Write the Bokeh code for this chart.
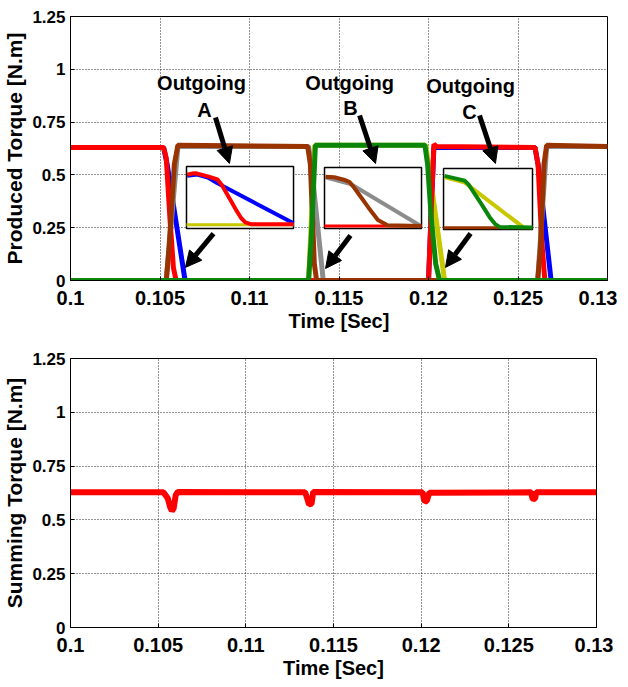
from bokeh.plotting import figure
from bokeh.layouts import column
from bokeh.models import Range1d, FixedTicker, Label, Arrow, NormalHead
from bokeh.embed import file_html
from bokeh.resources import INLINE

# ---------------- data ----------------
x_ticks = [0.1, 0.105, 0.11, 0.115, 0.12, 0.125, 0.13]
x_tick_labels = ["0.1", "0.105", "0.11", "0.115", "0.12", "0.125", "0.13"]
y_ticks = [0, 0.25, 0.5, 0.75, 1.0, 1.25]
y_tick_labels = ["0", "0.25", "0.5", "0.75", "1", "1.25"]

# Phase A (measured = red, reference = blue)
red_t = [0.1, 0.10520, 0.10535, 0.10555, 0.10575, 0.10590, 0.12000, 0.12030, 0.12045, 0.12595, 0.12612, 0.12632, 0.12650, 0.13]
red_v = [0.63, 0.63, 0.58, 0.30, 0.06, 0.0, 0.0, 0.645, 0.635, 0.63, 0.55, 0.20, 0.0, 0.0]
blue_t = [0.1, 0.10520, 0.10540, 0.10640, 0.12000, 0.12030, 0.12595, 0.12612, 0.12685, 0.13]
blue_v = [0.63, 0.63, 0.55, 0.0, 0.0, 0.63, 0.63, 0.55, 0.0, 0.0]
# Phase B (measured = brown, reference = gray)
brown_t = [0.1, 0.10535, 0.10550, 0.10580, 0.10600, 0.11325, 0.11340, 0.11352, 0.11362, 0.11375,
           0.12610, 0.12625, 0.12645, 0.12660, 0.13]
brown_v = [0.0, 0.0, 0.15, 0.55, 0.64, 0.635, 0.55, 0.30, 0.08, 0.0,
           0.0, 0.15, 0.55, 0.64, 0.635]
gray_t = [0.1, 0.10535, 0.10600, 0.11330, 0.11345, 0.11412, 0.12610, 0.12660, 0.13]
gray_v = [0.0, 0.0, 0.635, 0.635, 0.55, 0.0, 0.0, 0.635, 0.635]
# Phase C (measured = green, reference = yellow)
green_t = [0.1, 0.11330, 0.11345, 0.11368, 0.11380, 0.11980, 0.11995, 0.12015, 0.12040, 0.12062, 0.13]
green_v = [0.0, 0.0, 0.20, 0.64, 0.64, 0.64, 0.55, 0.30, 0.08, 0.0, 0.0]
yellow_t = [0.1, 0.11330, 0.11365, 0.11985, 0.12000, 0.12090, 0.13]
yellow_v = [0.0, 0.0, 0.64, 0.64, 0.55, 0.0, 0.0]

# Summing torque
sum_t = [0.1, 0.10530, 0.10555, 0.10568, 0.10578, 0.10588, 0.10600, 0.10612,
         0.11338, 0.11350, 0.11360, 0.11375, 0.11384,
         0.12008, 0.12015, 0.12022, 0.12032, 0.12046,
         0.12628, 0.12634, 0.12640, 0.12650, 0.12656, 0.13]
sum_v = [0.628, 0.628, 0.600, 0.560, 0.542, 0.552, 0.615, 0.630,
         0.628, 0.600, 0.572, 0.575, 0.630,
         0.628, 0.600, 0.585, 0.588, 0.626,
         0.628, 0.602, 0.596, 0.600, 0.628, 0.628]

# Inset zooms (normalised inset units: 0..1 across each inset box)
insA_red_x = [0.006, 0.05, 0.085, 0.20, 0.29, 0.33, 0.37, 0.42, 0.47, 0.51, 0.55, 0.60, 1.0]
insA_red_y = [0.866, 0.885, 0.89, 0.84, 0.79, 0.70, 0.58, 0.43, 0.28, 0.17, 0.10, 0.07, 0.07]
insA_blue_x = [0.006, 0.10, 0.20, 0.29, 1.0]
insA_blue_y = [0.85, 0.87, 0.82, 0.73, 0.086]
insA_base_x = [0.0, 1.0]
insA_base_y = [0.06, 0.06]

insB_brown_x = [0.01, 0.10, 0.20, 0.26, 0.31, 0.36, 0.45, 0.55, 0.65, 1.0]
insB_brown_y = [0.85, 0.84, 0.80, 0.76, 0.66, 0.55, 0.35, 0.14, 0.054, 0.043]
insB_gray_x = [0.01, 0.27, 0.98]
insB_gray_y = [0.84, 0.73, 0.054]
insB_base_x = [0.0, 1.0]
insB_base_y = [0.04, 0.04]

insC_green_x = [0.01, 0.13, 0.24, 0.28, 0.33, 0.43, 0.52, 0.58, 0.63, 1.0]
insC_green_y = [0.88, 0.84, 0.80, 0.74, 0.63, 0.41, 0.20, 0.09, 0.044, 0.033]
insC_yellow_x = [0.01, 0.24, 0.89]
insC_yellow_y = [0.86, 0.77, 0.044]
insC_base_x = [0.0, 1.0]
insC_base_y = [0.03, 0.03]

# ---------------- styles / layout ----------------
RED, BLUE, BROWN, GRAY, GREEN, YELLOW = "#ff0000", "#0000ff", "#993300", "#8c8c8c", "#0a870a", "#c8c800"
FONT = "Liberation Sans"

XR = (0.1, 0.13)
YR = (0.0, 1.25)

# inset boxes in main-axis data coordinates (x0, x1, y0, y1)
inset_boxes = {
    "A": (0.10648, 0.11246, 0.246, 0.540),
    "B": (0.11419, 0.11961, 0.246, 0.535),
    "C": (0.12084, 0.12581, 0.241, 0.530),
}
outgoing_pos = {"A": (0.10732, 0.933, 0.10749, 0.805),
                "B": (0.11559, 0.933, 0.11564, 0.819),
                "C": (0.12235, 0.919, 0.12229, 0.800)}
arrow_pos = [
    (0.10810, 0.772, 0.10888, 0.554), (0.10799, 0.222, 0.10642, 0.062),
    (0.11615, 0.781, 0.11704, 0.554), (0.11564, 0.213, 0.11425, 0.057),
    (0.12285, 0.781, 0.12374, 0.554), (0.12235, 0.222, 0.12095, 0.062),
]


def make_fig(fw, fh, left, right, top, bottom, ylabel):
    p = figure(frame_width=fw, frame_height=fh,
               x_range=Range1d(*XR), y_range=Range1d(*YR),
               output_backend="svg", toolbar_location=None,
               min_border_left=left, min_border_right=right,
               min_border_top=top, min_border_bottom=bottom,
               background_fill_color="white", border_fill_color="white")
    p.outline_line_color = "black"
    p.outline_line_width = 1
    p.xaxis.ticker = FixedTicker(ticks=x_ticks)
    p.yaxis.ticker = FixedTicker(ticks=y_ticks)
    p.xaxis.major_label_overrides = dict(zip(x_ticks, x_tick_labels))
    p.yaxis.major_label_overrides = dict(zip(y_ticks, y_tick_labels))
    p.xaxis.axis_label = "Time [Sec]"
    p.yaxis.axis_label = ylabel
    for ax in (p.xaxis[0], p.yaxis[0]):
        ax.axis_line_color = "black"
        ax.major_tick_in = 4
        ax.major_tick_out = 0
        ax.minor_tick_line_color = None
        ax.major_label_text_font = FONT
        ax.major_label_text_font_style = "bold"
        ax.major_label_text_color = "black"
        ax.axis_label_text_font = FONT
        ax.axis_label_text_font_style = "bold"
        ax.axis_label_text_color = "black"
    p.xaxis.major_label_text_font_size = "20px"
    p.xaxis.major_label_standoff = 10
    p.xaxis.axis_label_text_font_size = "20px"
    p.xaxis.axis_label_standoff = 2
    p.yaxis.major_label_text_font_size = "17px"
    p.yaxis.major_label_standoff = 5
    p.yaxis.axis_label_text_font_size = "21px"
    p.yaxis.axis_label_standoff = 3
    p.xgrid.ticker = FixedTicker(ticks=x_ticks)
    p.ygrid.ticker = FixedTicker(ticks=y_ticks)
    for g in (p.xgrid[0], p.ygrid[0]):
        g.grid_line_color = "black"
        g.grid_line_dash = "1 2"
        g.grid_line_width = 1
        g.grid_line_alpha = 0.85
    return p


# ---------------- top figure ----------------
p1 = make_fig(537, 264, 65, 10, 16, 60, "Produced Torque [N.m]")
p1.line(blue_t, blue_v, line_color=BLUE, line_width=5)
p1.line(gray_t, gray_v, line_color=GRAY, line_width=5)
p1.line(yellow_t, yellow_v, line_color=YELLOW, line_width=5)
p1.line(red_t, red_v, line_color=RED, line_width=5)
p1.line(brown_t, brown_v, line_color=BROWN, line_width=5)
p1.line(green_t, green_v, line_color=GREEN, line_width=5)

insets = {
    "A": [(insA_base_x, insA_base_y, YELLOW, 3), (insA_blue_x, insA_blue_y, BLUE, 4), (insA_red_x, insA_red_y, RED, 4)],
    "B": [(insB_base_x, insB_base_y, RED, 3), (insB_gray_x, insB_gray_y, GRAY, 4), (insB_brown_x, insB_brown_y, BROWN, 4)],
    "C": [(insC_base_x, insC_base_y, BROWN, 3), (insC_yellow_x, insC_yellow_y, YELLOW, 4), (insC_green_x, insC_green_y, GREEN, 4)],
}
for key, (x0, x1, y0, y1) in inset_boxes.items():
    xs = -(x0 - XR[0]) / (x1 - x0)
    xe = xs + (XR[1] - XR[0]) / (x1 - x0)
    ys = -(y0 - YR[0]) / (y1 - y0)
    ye = ys + (YR[1] - YR[0]) / (y1 - y0)
    xn, yn = "ix" + key, "iy" + key
    p1.extra_x_ranges[xn] = Range1d(xs, xe)
    p1.extra_y_ranges[yn] = Range1d(ys, ye)
    p1.quad(left=[0], right=[1], bottom=[0], top=[1], fill_color="white",
            line_color="black", line_width=1.5, x_range_name=xn, y_range_name=yn)
    for xs_, ys_, col, lw in insets[key]:
        p1.line(xs_, ys_, line_color=col, line_width=lw, x_range_name=xn, y_range_name=yn)

for key, (ox, oy, lx, ly) in outgoing_pos.items():
    p1.add_layout(Label(x=ox, y=oy, text="Outgoing", text_align="center", text_baseline="middle",
                        text_font=FONT, text_font_style="bold", text_font_size="20px", text_color="black"))
    p1.add_layout(Label(x=lx, y=ly, text=key, text_align="center", text_baseline="middle",
                        text_font=FONT, text_font_style="bold", text_font_size="20px", text_color="black"))

for (xs_, ys_, xe_, ye_) in arrow_pos:
    p1.add_layout(Arrow(x_start=xs_, y_start=ys_, x_end=xe_, y_end=ye_, line_width=5, line_color="black",
                        end=NormalHead(size=16, fill_color="black", line_color="black", line_width=1)))

# ---------------- bottom figure ----------------
p2 = make_fig(526, 269, 69, 17, 18, 58, "Summing Torque [N.m]")
p2.line(sum_t, sum_v, line_color=RED, line_width=6)

layout = column(p1, p2, spacing=0)
open("out.html", "w").write(file_html(layout, INLINE))
